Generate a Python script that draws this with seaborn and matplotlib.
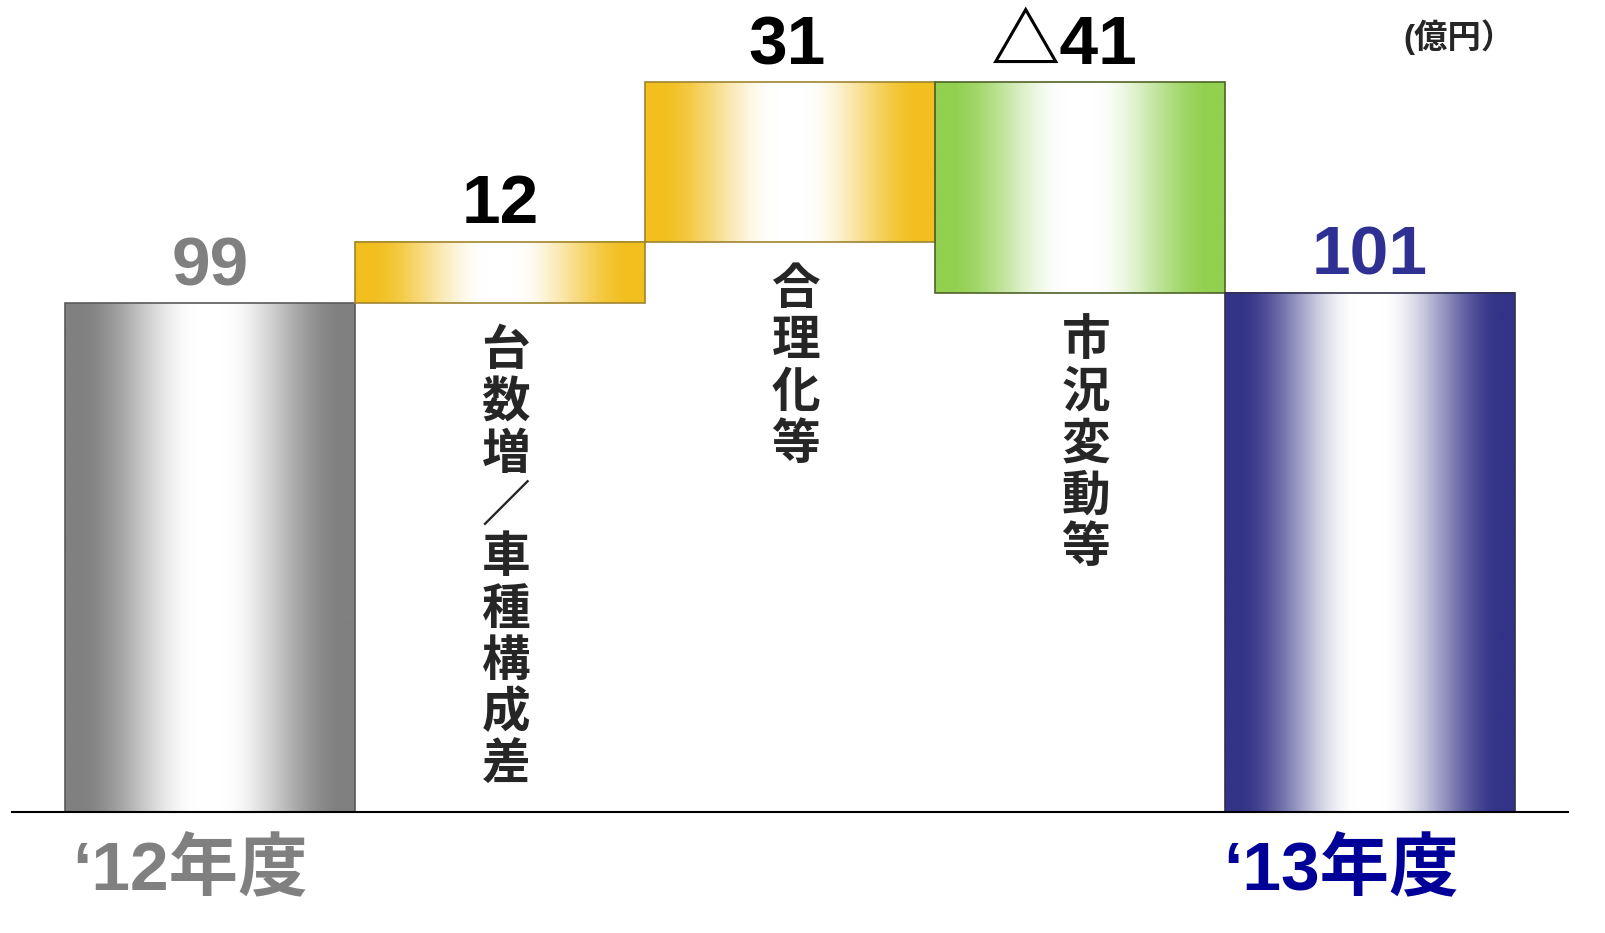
import numpy as np
import pandas as pd
import matplotlib
matplotlib.use("Agg")
import matplotlib.pyplot as plt
import matplotlib.colors as mcolors
import seaborn as sns

# ---- data ----
categories = ["'12年度", "台数増／車種構成差", "合理化等", "市況変動等", "'13年度"]
value_labels = ["99", "12", "31", "△41", "101"]
heights = [99, 12, 31, 41, 101]
bottoms = [0, 99, 111, 101, 0]
vertical_labels = ["", "台数増／車種構成差", "合理化等", "市況変動等", ""]
bottom_labels = ["‘12年度", "‘13年度"]
unit_label = "(億円）"

edge_colors = ["#808080", "#F2BF1E", "#F2BF1E", "#92D050", "#333388"]
border_colors = ["#5a5a5a", "#a08530", "#a08530", "#4f6228", "#303050"]
value_colors = ["#808080", "#000000", "#000000", "#000000", "#2E3192"]
label_dx = [0, 0, -0.01, -0.055, 0]

sns.set_theme(style="white")
plt.rcParams["font.family"] = ["Liberation Sans", "Noto Sans CJK JP", "DejaVu Sans"]

fig = plt.figure(figsize=(16.05, 9.33), dpi=100)
ax = fig.add_axes([12 / 1605, (933 - 812) / 933, (1568 - 12) / 1605, 812 / 933])

df = pd.DataFrame({"cat": categories, "h": heights})
sns.barplot(data=df, x="cat", y="h", bottom=bottoms, width=1.0, ax=ax,
            color="white", edgecolor="none", linewidth=0)

# gradient fill
xs = np.linspace(0, 1, 256)
t = 1 - np.abs(2 * xs - 1)
t = np.clip(t * 1.2 - 0.1, 0, 1)
t = t * t * (3 - 2 * t)
bars = list(ax.patches[:5])
for i, p in enumerate(bars):
    x0, y0 = p.get_x(), p.get_y()
    w, h = p.get_width(), p.get_height()
    c = np.array(mcolors.to_rgb(edge_colors[i]))
    img = c[None, :] * (1 - t[:, None]) + np.ones(3)[None, :] * t[:, None]
    img = img[None, :, :]
    ax.imshow(img, extent=[x0, x0 + w, y0, y0 + h], aspect="auto",
              interpolation="bilinear", zorder=2)
    ax.add_patch(plt.Rectangle((x0, y0), w, h, fill=False,
                               edgecolor=border_colors[i], linewidth=1.2, zorder=3))
    top = y0 + h
    ax.annotate(value_labels[i], (i + label_dx[i], top), xytext=(0, 13),
                textcoords="offset points",
                ha="center", va="baseline", fontsize=50, fontweight="bold",
                color=value_colors[i], zorder=4, annotation_clip=False)
    if vertical_labels[i]:
        ax.text(i + 0.02, y0 - 4.5, "\n".join(vertical_labels[i]), ha="center", va="top",
                fontsize=35, fontweight="bold", linespacing=1.07,
                family=["Noto Sans CJK JP"], zorder=4)

ax.set_xlim(-0.683, 4.683)
ax.set_ylim(0, 158)

ax.text(-0.07, -15.2, bottom_labels[0], ha="center", va="baseline", fontsize=50,
        fontweight="bold", color="#808080", clip_on=False)
ax.text(3.90, -15.2, bottom_labels[1], ha="center", va="baseline", fontsize=50,
        fontweight="bold", color="#000099", clip_on=False)

fig.text(1515 / 1605, 1 - 37 / 933, unit_label, ha="right", va="center",
         fontsize=24, fontweight="bold", family=["Liberation Sans", "Noto Sans CJK JP"])

for s in ["top", "left", "right"]:
    ax.spines[s].set_visible(False)
ax.spines["bottom"].set_color("black")
ax.spines["bottom"].set_linewidth(1.5)
ax.spines["bottom"].set_zorder(5)
ax.set_xticks([])
ax.set_yticks([])
ax.set_xlabel("")
ax.set_ylabel("")
ax.patch.set_alpha(0)

fig.savefig("out.png", dpi=100)
